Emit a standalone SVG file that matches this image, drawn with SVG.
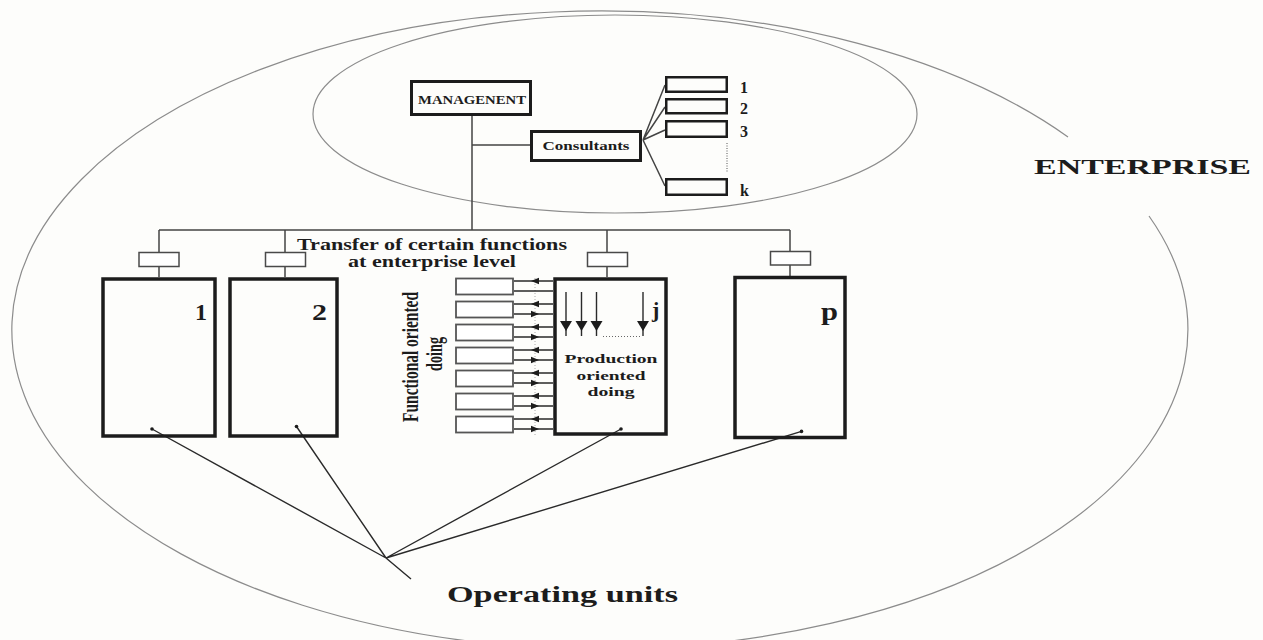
<svg xmlns="http://www.w3.org/2000/svg" width="1263" height="640" viewBox="0 0 1263 640">
<defs>
<style>
.t{font-family:"Liberation Serif","Times New Roman",serif;font-weight:bold;fill:#1c1c1c}
.ell{fill:none;stroke:#8c8c8c;stroke-width:1.2}
.unit{fill:none;stroke:#1c1c1c;stroke-width:3.5}
.thick{fill:none;stroke:#1c1c1c;stroke-width:3}
.cbox{fill:none;stroke:#1c1c1c;stroke-width:2.5}
.sbox{fill:#fff;stroke:#4a4a4a;stroke-width:1.5}
.fbox{fill:#fff;stroke:#555;stroke-width:1.8}
.ln{fill:none;stroke:#2a2a2a;stroke-width:1.4}
.tree{fill:none;stroke:#444;stroke-width:1.5}
.dot{fill:#1c1c1c}
</style>
<polygon id="al" points="0,0 8,-3.2 8,3.2" fill="#1c1c1c"/>
<polygon id="ar" points="0,0 -8,-3.2 -8,3.2" fill="#1c1c1c"/>
<polygon id="ad" points="0,0 -6,-10 6,-10" fill="#1c1c1c"/>
</defs>
<rect width="1263" height="640" fill="#fdfdfb"/>

<g id="enterprise">
<path class="ell" d="M1149,216 A588 319 0 1 1 1068,137"/>
<text class="t" x="1034" y="173.5" font-size="22" textLength="217" lengthAdjust="spacingAndGlyphs">ENTERPRISE</text>
</g>

<g id="management-zone">
<ellipse class="ell" cx="615" cy="114" rx="302" ry="99"/>
</g>

<g id="connectors">
<path class="tree" d="M472,116 V230 M472,145 H530 M159,230 H790 M159,230 V252 M159,267 V277 M285,230 V252 M285,267 V277 M607,230 V252 M607,267 V277 M790,230 V251 M790,265 V276"/>
<path class="tree" stroke-width="1.8" d="M643,140 L665,85 M643,140 L665,107 M643,140 L665,130 M643,140 L665,186"/>
<line x1="727" y1="143" x2="727" y2="173" stroke="#555" stroke-width="1" stroke-dasharray="1 1.5"/>
<path class="ln" d="M152,429 L386,558 M296.5,426.5 L386,558 M621,429 L386,558 M801.5,431.4 L386,558 M386,558 L411,579"/>
</g>

<g id="management">
<rect class="thick" x="411.5" y="81.5" width="119" height="33"/>
<text class="t" x="472" y="104" font-size="13" text-anchor="middle" textLength="108" lengthAdjust="spacingAndGlyphs">MANAGENENT</text>
</g>

<g id="consultants">
<rect class="thick" x="531.5" y="131.5" width="109" height="29"/>
<text class="t" x="586" y="150" font-size="13.5" text-anchor="middle" textLength="87" lengthAdjust="spacingAndGlyphs">Consultants</text>
</g>

<g id="consultant-1"><rect class="cbox" x="666.25" y="77.25" width="60.5" height="14.5"/><text class="t" x="740" y="93" font-size="16">1</text></g>
<g id="consultant-2"><rect class="cbox" x="666.25" y="99.25" width="60.5" height="14"/><text class="t" x="740" y="114" font-size="16">2</text></g>
<g id="consultant-3"><rect class="cbox" x="666.25" y="121.25" width="60.5" height="15.5"/><text class="t" x="740" y="137" font-size="16">3</text></g>
<g id="consultant-k"><rect class="cbox" x="666.25" y="179.25" width="60.5" height="15.5"/><text class="t" x="740" y="196" font-size="16">k</text></g>

<g id="transfer-label">
<text class="t" x="432" y="250" font-size="16" text-anchor="middle" textLength="270" lengthAdjust="spacingAndGlyphs">Transfer of certain functions</text>
<text class="t" x="432" y="266.7" font-size="16" text-anchor="middle" textLength="168" lengthAdjust="spacingAndGlyphs">at enterprise level</text>
</g>

<g id="link-boxes">
<rect class="sbox" x="139" y="252.5" width="40" height="14"/>
<rect class="sbox" x="265.5" y="252.5" width="40" height="14"/>
<rect class="sbox" x="587.5" y="252.5" width="40" height="14"/>
<rect class="sbox" x="770.5" y="251.5" width="40" height="13.5"/>
</g>

<g id="unit-1">
<rect class="unit" x="103" y="279" width="112" height="157"/>
<text class="t" x="195" y="320" font-size="24" textLength="12" lengthAdjust="spacingAndGlyphs">1</text>
<circle class="dot" cx="152" cy="429" r="1.8"/>
</g>

<g id="unit-2">
<rect class="unit" x="230" y="279" width="107" height="157"/>
<text class="t" x="312" y="320" font-size="24" textLength="15" lengthAdjust="spacingAndGlyphs">2</text>
<circle class="dot" cx="296.5" cy="426.5" r="1.8"/>
</g>

<g id="functional">
<line x1="535" y1="278" x2="535" y2="435" stroke="#aaa" stroke-width="1" stroke-dasharray="1 2"/>
<path class="ln" stroke-width="1.2" d="M514,281 H553 M514,291 H553 M514,304 H553 M514,314 H553 M514,327 H553 M514,337 H553 M514,350 H553 M514,360 H553 M514,373 H553 M514,383 H553 M514,396 H553 M514,406 H553 M514,419 H553 M514,429 H553"/>
<rect class="fbox" x="456" y="278.5" width="57" height="16"/>
<rect class="fbox" x="456" y="301.5" width="57" height="16"/>
<rect class="fbox" x="456" y="324.5" width="57" height="16"/>
<rect class="fbox" x="456" y="347.5" width="57" height="16"/>
<rect class="fbox" x="456" y="370.5" width="57" height="16"/>
<rect class="fbox" x="456" y="393.5" width="57" height="16"/>
<rect class="fbox" x="456" y="416.5" width="57" height="16"/>
<use href="#al" x="531" y="281"/>
<use href="#al" x="531" y="304"/><use href="#ar" x="539" y="314"/>
<use href="#al" x="531" y="327"/><use href="#ar" x="539" y="337"/>
<use href="#al" x="531" y="350"/><use href="#ar" x="539" y="360"/>
<use href="#al" x="531" y="373"/><use href="#ar" x="539" y="383"/>
<use href="#al" x="531" y="396"/><use href="#ar" x="539" y="406"/>
<use href="#al" x="531" y="419"/><use href="#ar" x="539" y="429"/>
<text class="t" font-size="15" text-anchor="middle" textLength="130" lengthAdjust="spacingAndGlyphs" transform="translate(418,357) scale(1.5,1) rotate(-90)">Functional oriented</text>
<text class="t" font-size="15" text-anchor="middle" textLength="34" lengthAdjust="spacingAndGlyphs" transform="translate(441.5,354) scale(1.5,1) rotate(-90)">doing</text>
</g>

<g id="unit-j">
<rect class="unit" x="555" y="279" width="111" height="155"/>
<path class="ln" stroke-width="1.3" d="M566,292 V336 M581.5,292 V336 M596.5,292 V336 M643,292 V336"/>
<use href="#ad" x="566" y="331"/><use href="#ad" x="581.5" y="331"/><use href="#ad" x="596.5" y="331"/><use href="#ad" x="643" y="331"/>
<line x1="603" y1="336.5" x2="640" y2="336.5" stroke="#666" stroke-width="1" stroke-dasharray="1 2"/>
<text class="t" x="652" y="317" font-size="22">j</text>
<text class="t" x="611" y="363.3" font-size="13.5" text-anchor="middle" textLength="93" lengthAdjust="spacingAndGlyphs">Production</text>
<text class="t" x="611" y="380" font-size="13.5" text-anchor="middle" textLength="69" lengthAdjust="spacingAndGlyphs">oriented</text>
<text class="t" x="611" y="395.5" font-size="13.5" text-anchor="middle" textLength="47" lengthAdjust="spacingAndGlyphs">doing</text>
<circle class="dot" cx="621" cy="429" r="1.8"/>
</g>

<g id="unit-p">
<rect class="unit" x="735" y="277.5" width="110" height="160"/>
<text class="t" x="821" y="320" font-size="25" textLength="17" lengthAdjust="spacingAndGlyphs">p</text>
<circle class="dot" cx="801.5" cy="431.4" r="1.8"/>
</g>

<g id="operating-units-label">
<text class="t" x="562.5" y="601.7" font-size="22.5" text-anchor="middle" textLength="231" lengthAdjust="spacingAndGlyphs">Operating units</text>
</g>
</svg>
